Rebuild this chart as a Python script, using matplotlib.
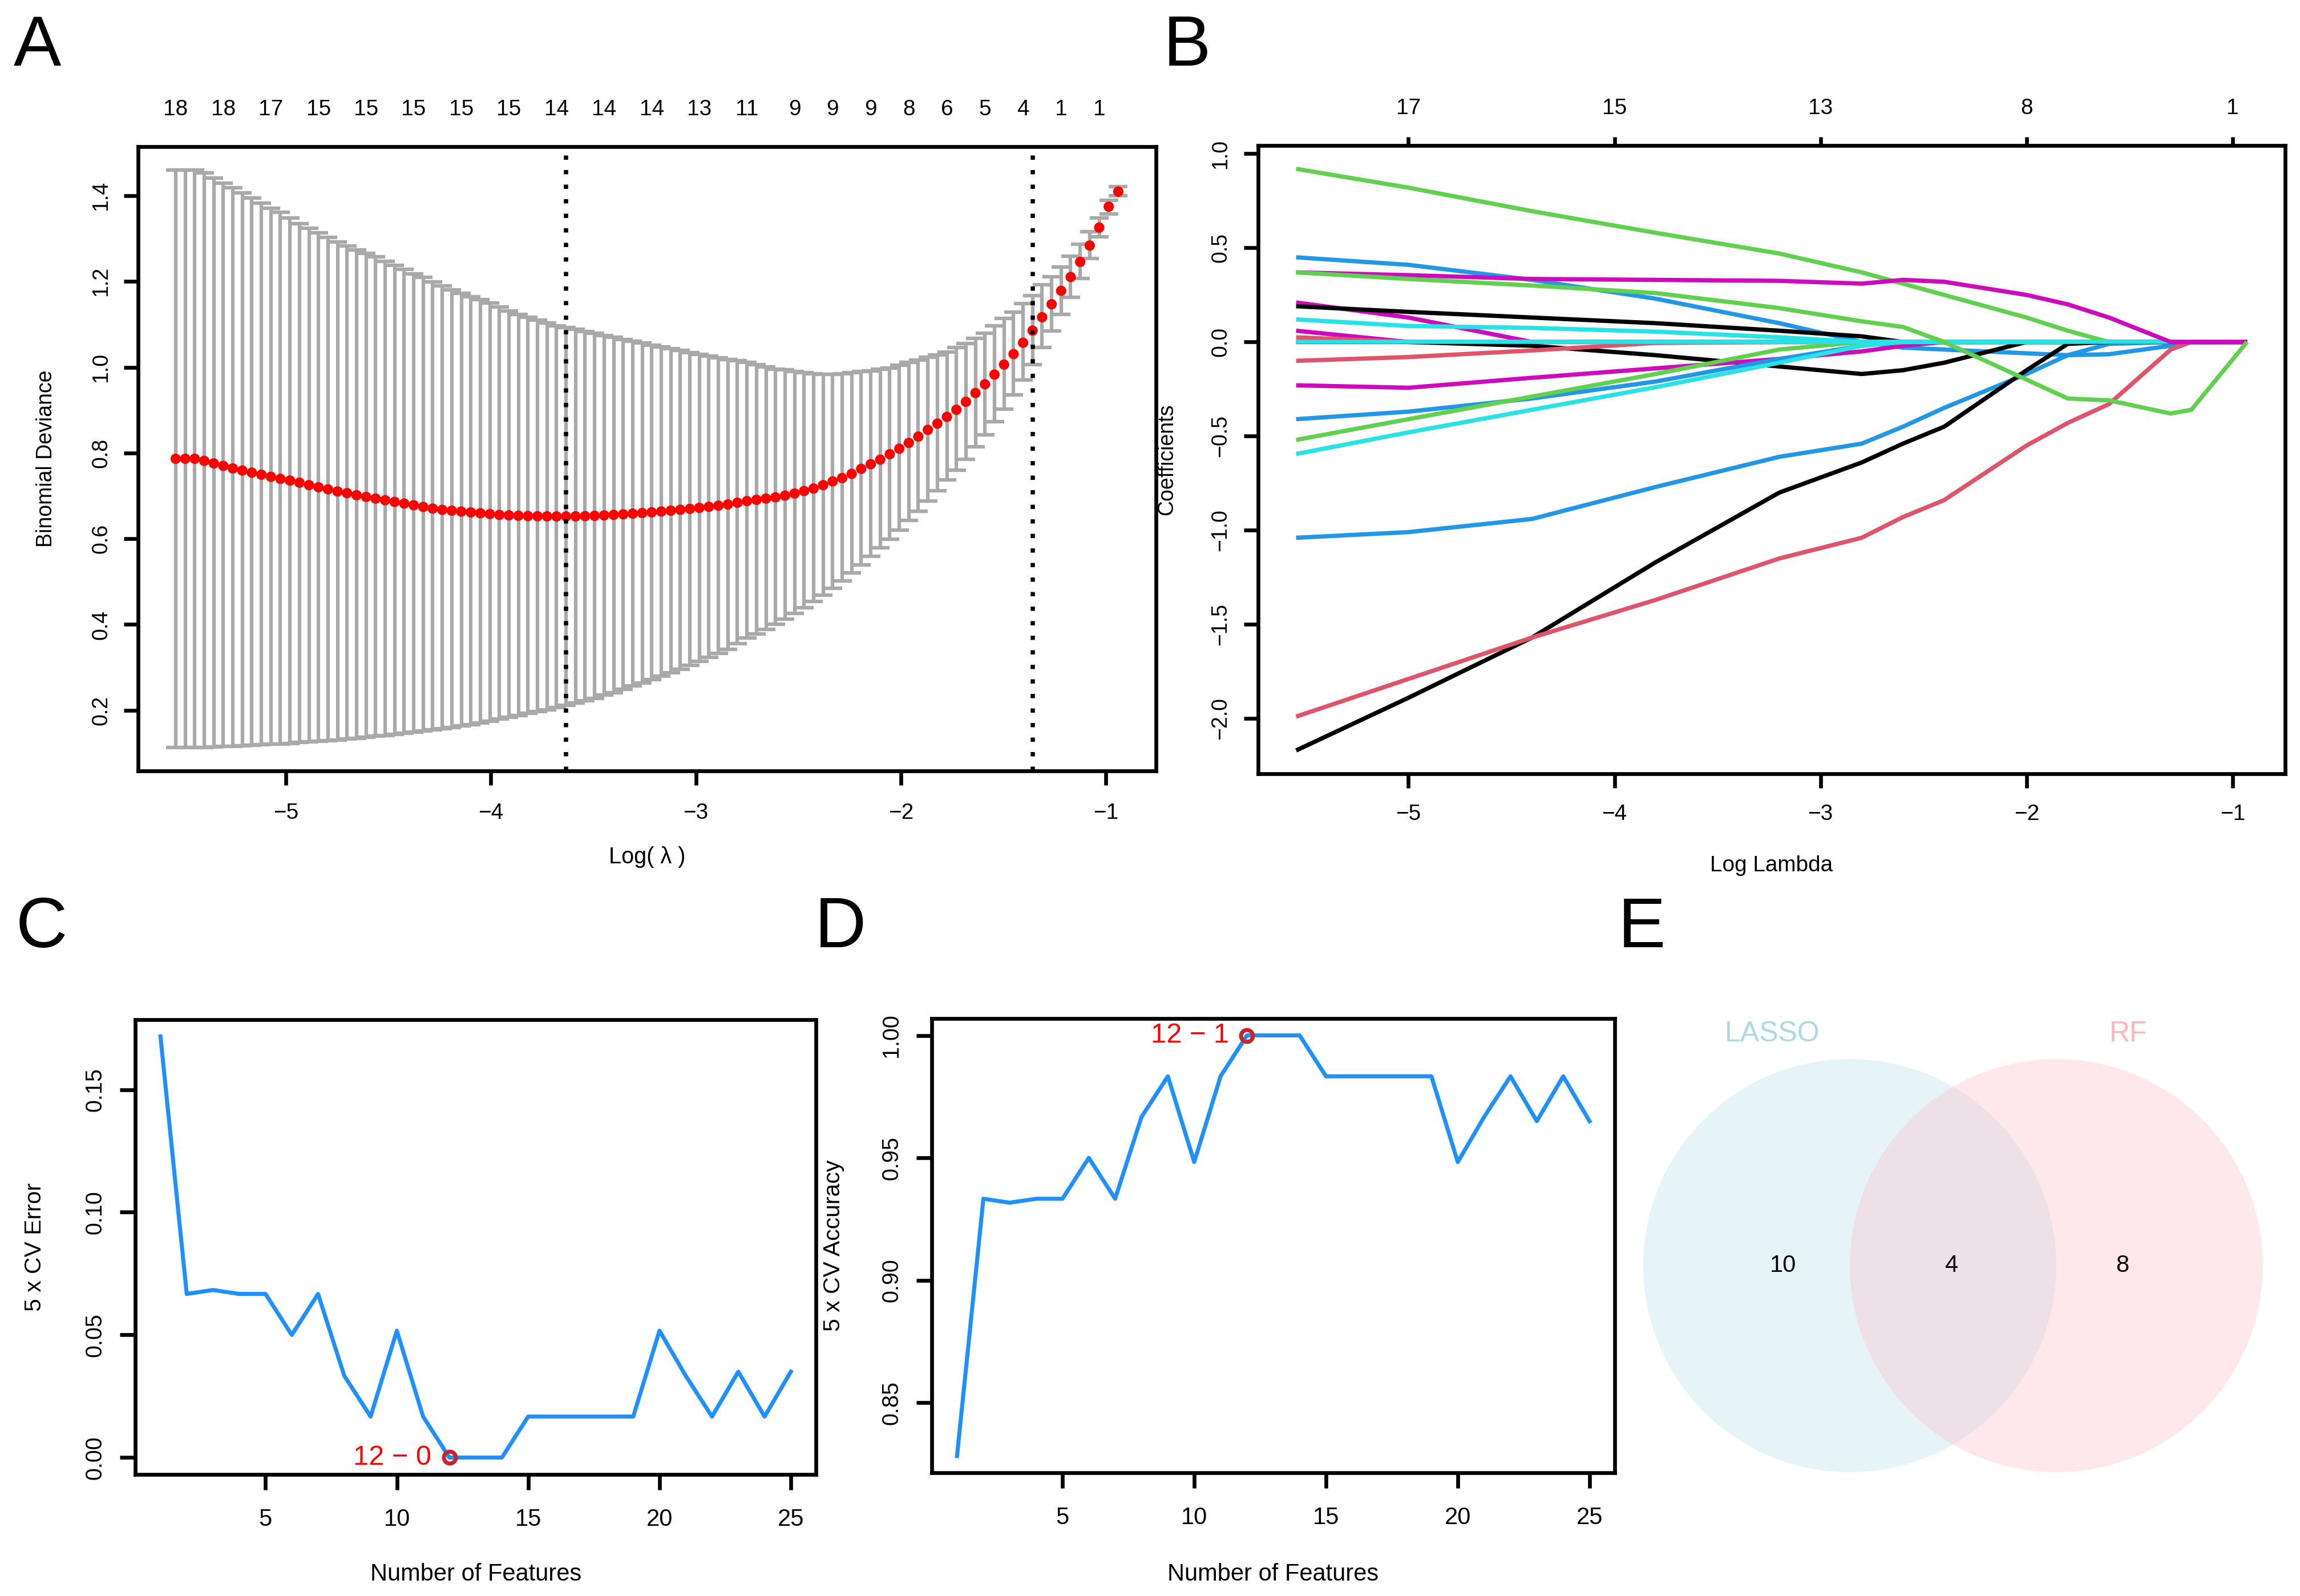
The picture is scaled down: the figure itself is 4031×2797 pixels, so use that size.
import numpy as np
import matplotlib.pyplot as plt
from matplotlib.patches import Circle

plt.rcParams['font.family'] = ['Liberation Sans', 'DejaVu Sans']

# A: cross-validated binomial deviance along the lambda path
LOG_LAMBDA_START = -5.538
LOG_LAMBDA_END = -0.939
N_LAMBDA = 100
cv_mean = [
    0.7865, 0.7865, 0.7865, 0.7816, 0.7757, 0.7699, 0.7640, 0.7591, 0.7542, 0.7494,
    0.7445, 0.7396, 0.7357, 0.7308, 0.7250, 0.7201, 0.7152, 0.7103, 0.7064, 0.7015,
    0.6976, 0.6937, 0.6898, 0.6859, 0.6820, 0.6781, 0.6742, 0.6703, 0.6673, 0.6654,
    0.6634, 0.6615, 0.6595, 0.6576, 0.6556, 0.6546, 0.6537, 0.6530, 0.6525, 0.6522,
    0.6520, 0.6520, 0.6522, 0.6527, 0.6535, 0.6545, 0.6557, 0.6570, 0.6585, 0.6600,
    0.6617, 0.6635, 0.6655, 0.6675, 0.6697, 0.6720, 0.6745, 0.6770, 0.6800, 0.6840,
    0.6878, 0.6908, 0.6937, 0.6966, 0.7005, 0.7054, 0.7113, 0.7171, 0.7250, 0.7337,
    0.7415, 0.7513, 0.7630, 0.7738, 0.7845, 0.7972, 0.8099, 0.8236, 0.8382, 0.8539,
    0.8685, 0.8841, 0.9007, 0.9193, 0.9398, 0.9603, 0.9828, 1.0062, 1.0306, 1.0570,
    1.0853, 1.1166, 1.1468, 1.1781, 1.2103, 1.2455, 1.2836, 1.3256, 1.3744, 1.4095,
]
cv_upper = [
    1.4603, 1.4603, 1.4603, 1.4535, 1.4408, 1.4291, 1.4183, 1.4066, 1.3939, 1.3822,
    1.3705, 1.3607, 1.3480, 1.3353, 1.3236, 1.3138, 1.3021, 1.2923, 1.2826, 1.2728,
    1.2650, 1.2572, 1.2474, 1.2377, 1.2279, 1.2181, 1.2093, 1.1986, 1.1898, 1.1800,
    1.1722, 1.1644, 1.1576, 1.1498, 1.1410, 1.1312, 1.1234, 1.1170, 1.1100, 1.1030,
    1.0970, 1.0920, 1.0880, 1.0830, 1.0790, 1.0740, 1.0700, 1.0650, 1.0600, 1.0560,
    1.0510, 1.0470, 1.0430, 1.0390, 1.0340, 1.0300, 1.0260, 1.0220, 1.0180, 1.0150,
    1.0111, 1.0062, 1.0004, 0.9955, 0.9935, 0.9906, 0.9876, 0.9847, 0.9837, 0.9837,
    0.9847, 0.9867, 0.9896, 0.9916, 0.9955, 0.9984, 1.0043, 1.0111, 1.0160, 1.0228,
    1.0287, 1.0355, 1.0453, 1.0550, 1.0677, 1.0794, 1.0960, 1.1136, 1.1283, 1.1478,
    1.1664, 1.1918, 1.2113, 1.2338, 1.2582, 1.2865, 1.3158, 1.3480, 1.3890, 1.4213,
]
cv_lower = [
    0.1126, 0.1126, 0.1126, 0.1130, 0.1140, 0.1156, 0.1164, 0.1173, 0.1183, 0.1194,
    0.1205, 0.1218, 0.1231, 0.1245, 0.1259, 0.1273, 0.1291, 0.1310, 0.1330, 0.1350,
    0.1371, 0.1393, 0.1416, 0.1440, 0.1464, 0.1488, 0.1516, 0.1545, 0.1574, 0.1604,
    0.1634, 0.1670, 0.1708, 0.1750, 0.1795, 0.1839, 0.1880, 0.1930, 0.1970, 0.2010,
    0.2060, 0.2120, 0.2170, 0.2220, 0.2280, 0.2350, 0.2410, 0.2490, 0.2570, 0.2640,
    0.2720, 0.2800, 0.2880, 0.2960, 0.3050, 0.3140, 0.3230, 0.3330, 0.3420, 0.3550,
    0.3685, 0.3782, 0.3890, 0.4007, 0.4124, 0.4252, 0.4398, 0.4535, 0.4691, 0.4847,
    0.5023, 0.5199, 0.5394, 0.5589, 0.5785, 0.5990, 0.6205, 0.6429, 0.6644, 0.6878,
    0.7113, 0.7367, 0.7601, 0.7855, 0.8138, 0.8421, 0.8724, 0.9027, 0.9359, 0.9701,
    1.0062, 1.0453, 1.0843, 1.1234, 1.1625, 1.2064, 1.2533, 1.3041, 1.3578, 1.3998,
]
idx_min = 41
idx_1se = 90
top_label_idx = [0, 5, 10, 15, 20, 25, 30, 35, 40, 45, 50, 55, 60, 65,
                 69, 73, 77, 81, 85, 89, 93, 97]
top_label_df = ['18', '18', '17', '15', '15', '15', '15', '15', '14', '14', '14',
                '13', '11', '9', '9', '9', '8', '6', '5', '4', '1', '1']

# B: coefficient paths
coef_x = [-5.545, -5.0, -4.4, -3.8, -3.2, -2.8, -2.6, -2.4, -2.0, -1.8, -1.6, -1.3, -1.2, -0.93]
coef_paths = [
    [0.21, 0.13, 0.0, 0.0, 0.0, 0.0, 0.0, 0.0, 0.0, 0.0, 0.0, 0.0, 0.0, 0.0],
    [0.06, 0.0, 0.0, 0.0, 0.0, 0.0, 0.0, 0.0, 0.0, 0.0, 0.0, 0.0, 0.0, 0.0],
    [0.025, 0.0, 0.0, 0.0, 0.0, 0.0, 0.0, 0.0, 0.0, 0.0, 0.0, 0.0, 0.0, 0.0],
    [0.92, 0.82, 0.695, 0.58, 0.47, 0.37, 0.31, 0.25, 0.13, 0.06, 0.0, 0.0, 0.0, 0.0],
    [0.45, 0.41, 0.33, 0.23, 0.10, 0.0, -0.03, -0.04, -0.06, -0.07, -0.065, -0.02, 0.0, 0.0],
    [0.19, 0.16, 0.13, 0.10, 0.06, 0.03, 0.0, 0.0, 0.0, 0.0, 0.0, 0.0, 0.0, 0.0],
    [0.12, 0.085, 0.075, 0.055, 0.025, 0.0, 0.0, 0.0, 0.0, 0.0, 0.0, 0.0, 0.0, 0.0],
    [0.0, 0.0, -0.02, -0.07, -0.13, -0.17, -0.15, -0.11, 0.0, 0.0, 0.0, 0.0, 0.0, 0.0],
    [-0.10, -0.08, -0.045, -0.005, 0.0, 0.0, 0.0, 0.0, 0.0, 0.0, 0.0, 0.0, 0.0, 0.0],
    [-0.23, -0.243, -0.19, -0.14, -0.09, -0.05, -0.02, 0.0, 0.0, 0.0, 0.0, 0.0, 0.0, 0.0],
    [-0.41, -0.37, -0.30, -0.21, -0.09, -0.02, 0.0, 0.0, 0.0, 0.0, 0.0, 0.0, 0.0, 0.0],
    [-0.52, -0.41, -0.29, -0.17, -0.04, 0.0, 0.0, 0.0, 0.0, 0.0, 0.0, 0.0, 0.0, 0.0],
    [-0.595, -0.48, -0.36, -0.24, -0.11, -0.02, 0.0, 0.0, 0.0, 0.0, 0.0, 0.0, 0.0, 0.0],
    [-1.04, -1.01, -0.94, -0.77, -0.61, -0.54, -0.45, -0.35, -0.17, -0.07, -0.01, 0.0, 0.0, 0.0],
    [-2.17, -1.89, -1.57, -1.17, -0.80, -0.64, -0.54, -0.45, -0.15, -0.01, 0.0, 0.0, 0.0, 0.0],
    [-1.99, -1.79, -1.57, -1.37, -1.15, -1.04, -0.93, -0.84, -0.55, -0.43, -0.33, -0.04, 0.0, 0.0],
    [0.0, 0.0, 0.0, 0.0, 0.0, 0.0, 0.0, 0.0, 0.0, 0.0, 0.0, 0.0, 0.0, 0.0],
    [0.37, 0.355, 0.335, 0.33, 0.325, 0.31, 0.33, 0.32, 0.25, 0.20, 0.13, 0.0, 0.0, 0.0],
    [0.37, 0.335, 0.30, 0.26, 0.18, 0.11, 0.08, 0.0, -0.20, -0.30, -0.31, -0.38, -0.36, 0.0],
]
coef_colors = ['#CD0BBC', '#CD0BBC', '#DF536B', '#61D04F', '#2297E6', '#000000',
               '#28E2E5', '#000000', '#DF536B', '#CD0BBC', '#2297E6', '#61D04F',
               '#28E2E5', '#2297E6', '#000000', '#DF536B', '#28E2E5', '#CD0BBC',
               '#61D04F']
b_top_at = [-5, -4, -3, -2, -1]
b_top_df = ['17', '15', '13', '8', '1']

# C / D: recursive feature elimination
n_features = np.arange(1, 26)
cv_error = [0.1717, 0.0667, 0.0683, 0.0667, 0.0667, 0.0500, 0.0667, 0.0333, 0.0167,
            0.0517, 0.0167, 0.0, 0.0, 0.0, 0.0167, 0.0167, 0.0167, 0.0167, 0.0167,
            0.0517, 0.0333, 0.0167, 0.0350, 0.0167, 0.0350]
cv_accuracy = [0.8283, 0.9333, 0.9317, 0.9333, 0.9333, 0.9500, 0.9333, 0.9667, 0.9833,
               0.9483, 0.9833, 1.0, 1.0, 1.0, 0.9833, 0.9833, 0.9833, 0.9833, 0.9833,
               0.9483, 0.9667, 0.9833, 0.9650, 0.9833, 0.9650]
best_n = 12

# E: overlap of selected genes
venn_sets = ['LASSO', 'RF']
venn_counts = [10, 4, 8]   # LASSO only, both, RF only


def r_lim(lo, hi):
    pad = 0.04 * (hi - lo)
    return lo - pad, hi + pad


def style_box(ax, tick_len=6):
    for s in ax.spines.values():
        s.set_linewidth(1.6)
    ax.tick_params(direction='out', length=tick_len, width=1.6, colors='black')


fig = plt.figure(figsize=(4031 / 300, 2797 / 300), dpi=300)

# ---------------- A
ax = fig.add_axes([0.0600, 0.5170, 0.4426, 0.3911])
log_lambda = np.linspace(LOG_LAMBDA_START, LOG_LAMBDA_END, N_LAMBDA)
barw = 0.046
ax.vlines(log_lambda, cv_lower, cv_upper, color='darkgrey', lw=1.5, zorder=1)
ax.hlines(cv_upper, log_lambda - barw, log_lambda + barw, color='darkgrey', lw=1.5, zorder=1)
ax.hlines(cv_lower, log_lambda - barw, log_lambda + barw, color='darkgrey', lw=1.5, zorder=1)
ax.scatter(log_lambda, cv_mean, s=19, color='red', edgecolors='none', zorder=3)
for i in (idx_min, idx_1se):
    ax.axvline(log_lambda[i], color='black', lw=1.8, linestyle=(0, (1, 2.4)), zorder=4)
ax.set_xlim(r_lim(LOG_LAMBDA_START, LOG_LAMBDA_END))
ax.set_ylim(r_lim(min(cv_lower), max(cv_upper)))
ax.set_xticks([-5, -4, -3, -2, -1])
ax.set_xticklabels(['\u22125', '\u22124', '\u22123', '\u22122', '\u22121'])
ax.set_yticks([0.2, 0.4, 0.6, 0.8, 1.0, 1.2, 1.4])
style_box(ax)
ax.tick_params(axis='x', labelsize=9.3, pad=7.4)
ax.tick_params(axis='y', labelsize=9, pad=5.2)
plt.setp(ax.get_yticklabels(), rotation=90, va='center')
ax.set_ylabel('Binomial Deviance', fontsize=9)
ax.yaxis.set_label_coords(-0.0902, 0.5)
ax.yaxis.label.set_va('center')
ax.set_xlabel('Log( \u03bb )', fontsize=9.5)
ax.xaxis.set_label_coords(0.5, -0.138)
ax.xaxis.label.set_va('center')
top = ax.twiny()
top.set_xlim(ax.get_xlim())
top.set_xticks(log_lambda[top_label_idx])
top.set_xticklabels(top_label_df)
top.tick_params(length=0, labelsize=9.3, pad=11.3)
for s in top.spines.values():
    s.set_visible(False)

# ---------------- B
ax = fig.add_axes([0.5470, 0.5152, 0.4465, 0.3936])
for path, col in zip(coef_paths, coef_colors):
    ax.plot(coef_x, path, color=col, lw=1.8, solid_capstyle='butt')
all_coef = np.concatenate([np.array(p) for p in coef_paths])
ax.set_xlim(r_lim(coef_x[0], coef_x[-1]))
ax.set_ylim(r_lim(all_coef.min(), all_coef.max()))
ax.set_xticks([-5, -4, -3, -2, -1])
ax.set_xticklabels(['\u22125', '\u22124', '\u22123', '\u22122', '\u22121'])
ax.set_yticks([-2.0, -1.5, -1.0, -0.5, 0.0, 0.5, 1.0])
ax.set_yticklabels(['\u22122.0', '\u22121.5', '\u22121.0', '\u22120.5', '0.0', '0.5', '1.0'])
style_box(ax)
ax.tick_params(axis='x', labelsize=9.3, pad=6.7)
ax.tick_params(axis='y', labelsize=9, pad=5.5)
plt.setp(ax.get_yticklabels(), rotation=90, va='center')
ax.set_ylabel('Coefficients', fontsize=9)
ax.yaxis.set_label_coords(-0.0889, 0.5)
ax.yaxis.label.set_va('center')
ax.set_xlabel('Log Lambda', fontsize=9.3)
ax.xaxis.set_label_coords(0.5, -0.146)
ax.xaxis.label.set_va('center')
top = ax.twiny()
top.set_xlim(ax.get_xlim())
top.set_xticks(b_top_at)
top.set_xticklabels(b_top_df)
top.tick_params(direction='out', length=3.5, width=1.6, labelsize=9.3, pad=7.8)
for s in top.spines.values():
    s.set_visible(False)


# ---------------- C and D
def rfe_panel(rect, values, ylabel, yticks, ylabel_x, xlabel_y, note):
    ax = fig.add_axes(rect)
    ax.plot(n_features, values, color='#1E90FF', lw=1.7, zorder=2)
    best_val = values[best_n - 1]
    ax.plot([best_n], [best_val], marker='o', ms=5, mfc='none', mec='#C8262E',
            mew=1.7, zorder=3)
    ax.annotate(note, (best_n, best_val), xytext=(-7.5, 0), textcoords='offset points',
                ha='right', va='center', color='red', fontsize=11.7)
    ax.set_xlim(r_lim(n_features[0], n_features[-1]))
    ax.set_ylim(r_lim(min(values), max(values)))
    ax.set_xticks([5, 10, 15, 20, 25])
    ax.set_yticks(yticks)
    style_box(ax, tick_len=6.4)
    ax.tick_params(axis='x', labelsize=10, pad=7.7)
    ax.tick_params(axis='y', labelsize=9.5, pad=6.0)
    plt.setp(ax.get_yticklabels(), rotation=90, va='center')
    ax.set_xlabel('Number of Features', fontsize=10)
    ax.xaxis.set_label_coords(0.5, xlabel_y)
    ax.xaxis.label.set_va('center')
    ax.set_ylabel(ylabel, fontsize=9.8)
    ax.yaxis.set_label_coords(ylabel_x, 0.5)
    ax.yaxis.label.set_va('center')
    return ax


rfe_panel([0.0588, 0.0762, 0.2960, 0.2850], cv_error, '5 x CV Error',
          [0.00, 0.05, 0.10, 0.15], -0.1475, -0.2196, f'{best_n} \u2212 0')
ax_d = rfe_panel([0.4051, 0.0772, 0.2970, 0.2846], cv_accuracy, '5 x CV Accuracy',
                 [0.85, 0.90, 0.95, 1.00], -0.1437, -0.2236, f'{best_n} \u2212 1')
ax_d.set_yticklabels(['0.85', '0.90', '0.95', '1.00'])

# ---------------- E
ax = fig.add_axes([2850 / 4031, 0, 1181 / 4031, 1247 / 2797])
ax.set_xlim(0, 1181)
ax.set_ylim(0, 1247)
ax.axis('off')
venn_r = 362
venn_cy = 579
venn_cx = [392, 392 + venn_r]
venn_fill = ['lightblue', 'lightpink']
for cx, col in zip(venn_cx, venn_fill):
    ax.add_patch(Circle((cx, venn_cy), venn_r, facecolor=col, edgecolor='none', alpha=0.3))
for name, lx, col in zip(venn_sets, [256, 880], venn_fill):
    ax.text(lx, 985, name, color=col, fontsize=12, ha='center', va='center')
for cnt, nx in zip(venn_counts, [275, 571, 870]):
    ax.text(nx, venn_cy, str(cnt), fontsize=10, ha='center', va='center')

# panel letters
for letter, lx, ly in [('A', 0.006, 0.991), ('B', 0.5058, 0.991), ('C', 0.0069, 0.4387),
                       ('D', 0.3543, 0.4387), ('E', 0.7036, 0.4387)]:
    fig.text(lx, ly, letter, fontsize=30, ha='left', va='top')

fig.savefig('out.png', dpi=300)
